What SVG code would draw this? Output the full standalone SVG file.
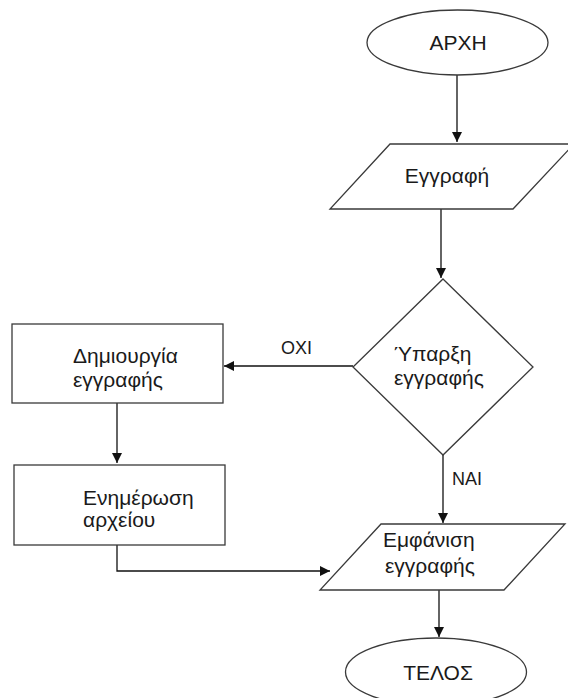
<svg xmlns="http://www.w3.org/2000/svg" width="568" height="698" viewBox="0 0 568 698">
  <style>
    .shape { fill: #ffffff; stroke: #3a3a3a; stroke-width: 1.3; }
    .label { font-family: "Liberation Sans", Arial, sans-serif; font-size: 21px; fill: #1a1a1a; }
    .edge-label { font-family: "Liberation Sans", Arial, sans-serif; font-size: 18px; fill: #1a1a1a; }
    .edge { fill: none; stroke: #111111; stroke-width: 1.3; }
  </style>
  <defs>
    <marker id="arrow" viewBox="0 0 10 10" refX="10" refY="5" markerWidth="10" markerHeight="10" markerUnits="userSpaceOnUse" orient="auto">
      <path d="M0,0 L10,5 L0,10 z" fill="#111111"/>
    </marker>
  </defs>
  <rect width="568" height="698" fill="#ffffff"/>

  <!-- connectors -->
  <g id="connectors">
    <line class="edge" x1="457" y1="75" x2="457" y2="142" marker-end="url(#arrow)"/>
    <line class="edge" x1="441" y1="209" x2="441" y2="278" marker-end="url(#arrow)"/>
    <line class="edge" x1="353" y1="366" x2="224" y2="366" marker-end="url(#arrow)"/>
    <text class="edge-label" x="281" y="354">ΟΧΙ</text>
    <line class="edge" x1="443" y1="455" x2="443" y2="523" marker-end="url(#arrow)"/>
    <text class="edge-label" x="452" y="485">ΝΑΙ</text>
    <line class="edge" x1="117" y1="403" x2="117" y2="463" marker-end="url(#arrow)"/>
    <polyline class="edge" points="117,545 117,571 330,571" marker-end="url(#arrow)"/>
    <line class="edge" x1="439" y1="590" x2="439" y2="637" marker-end="url(#arrow)"/>
  </g>

  <g id="start">
    <ellipse class="shape" cx="457.5" cy="42.5" rx="90.5" ry="32.5"/>
    <text class="label" x="458" y="50" text-anchor="middle">ΑΡΧΗ</text>
  </g>

  <g id="input-record">
    <polygon class="shape" points="390,144 574,144 513,209 330,209"/>
    <text class="label" x="447" y="183" text-anchor="middle">Εγγραφή</text>
  </g>

  <g id="record-exists">
    <polygon class="shape" points="443,279 533,367 443,455 353,367"/>
    <text class="label" x="394" y="361">Ύπαρξη</text>
    <text class="label" x="394" y="385">εγγραφής</text>
  </g>

  <g id="create-record">
    <rect class="shape" x="12" y="324" width="211" height="79"/>
    <text class="label" x="73" y="363">Δημιουργία</text>
    <text class="label" x="73" y="387">εγγραφής</text>
  </g>

  <g id="update-file">
    <rect class="shape" x="14" y="465" width="211" height="80"/>
    <text class="label" x="83" y="505">Ενημέρωση</text>
    <text class="label" x="83" y="527">αρχείου</text>
  </g>

  <g id="show-record">
    <polygon class="shape" points="381,524 565,524 504,590 320,590"/>
    <text class="label" x="383" y="547">Εμφάνιση</text>
    <text class="label" x="385" y="573">εγγραφής</text>
  </g>

  <g id="end">
    <ellipse class="shape" cx="436" cy="672" rx="90.5" ry="34"/>
    <text class="label" x="438" y="680" text-anchor="middle">ΤΕΛΟΣ</text>
  </g>
</svg>
